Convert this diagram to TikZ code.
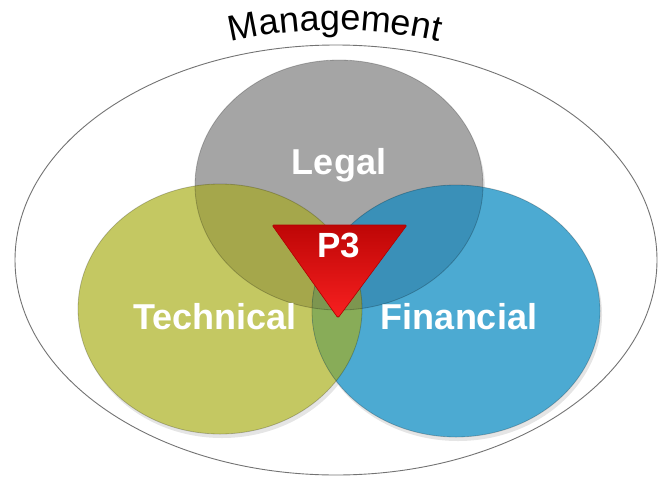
\documentclass[tikz,border=0pt]{standalone}
\usepackage{fontspec}
\setmainfont{Liberation Sans}
\usepackage{tikz}
\usetikzlibrary{calc}
\usetikzlibrary{decorations.text}
\usetikzlibrary{positioning}

\definecolor{legalgray}{RGB}{165,165,165}
\definecolor{techgreen}{RGB}{196,200,98}
\definecolor{finblue}{RGB}{76,170,210}
\definecolor{legtech}{RGB}{165,167,75}
\definecolor{legfin}{RGB}{58,144,184}
\definecolor{techfin}{RGB}{136,172,88}
\definecolor{allthree}{RGB}{125,150,80}
\definecolor{ptop}{RGB}{190,6,6}
\definecolor{pbot}{RGB}{248,32,32}

\newcommand{\legalset}{(339,185) ellipse [x radius=144, y radius=125]}
\newcommand{\techset}{(220,309) ellipse [x radius=142, y radius=125]}
\newcommand{\finset}{(456,311) ellipse [x radius=144, y radius=126]}
\newcommand{\mgmtfont}{\fontsize{36}{40}\selectfont}

\begin{document}
\begin{tikzpicture}[x=1pt, y=-1pt,
                    rim/.style={draw=black, draw opacity=0.22, line width=0.8pt},
                    shade off/.style={fill=black, fill opacity=0.10},
                    setname/.style={text=white, inner sep=0pt, anchor=base,
                                    font=\fontsize{36}{40}\selectfont\bfseries}]
              \useasboundingbox (0,0) rectangle (660,479);

              % outer set
              \draw[gray!90!black, line width=0.9pt] (336,260) ellipse [x radius=321, y radius=215];
              \begin{scope}[y=1pt]
                \path[decorate, decoration={text along path, text align=center,
                      text={|\mgmtfont|Management}}]
                      (335,-495) ++(105:465) arc[start angle=105, end angle=75, radius=465];
              \end{scope}

              % shadows
              \begin{scope}[shift={(2,4)}]
                \fill[shade off] \legalset;
                \fill[shade off] \techset;
                \fill[shade off] \finset;
              \end{scope}

              % the three sets
              \fill[legalgray] \legalset;
              \fill[techgreen] \techset;
              \fill[finblue]   \finset;
              \begin{scope}
                \clip \legalset;
                \fill[legtech] \techset;
                \fill[legfin]  \finset;
              \end{scope}
              \begin{scope}
                \clip \techset;
                \fill[techfin] \finset;
                \clip \finset;
                \fill[allthree] \legalset;
              \end{scope}
              \draw[rim] \legalset;
              \draw[rim] \techset;
              \draw[rim] \finset;

              \draw (339,174) node[setname] (legal) {Legal};
              \draw (215,329) node[setname] (technical) {Technical};
              \draw (459,329) node[setname] (financial) {Financial};

              % P3 triangle
              \coordinate (tl) at (272,225);
              \coordinate (tr) at (407,225);
              \coordinate (tb) at (338,318);
              \fill[black, fill opacity=0.25, shift={(2,3)}] (tl) -- (tr) -- (tb) -- cycle;
              \shade[top color=ptop, bottom color=pbot, draw=red!70!black, line width=0.6pt,
                     rounded corners=1.5pt] (tl) -- (tr) -- (tb) -- cycle;
              \draw (339,257) node[setname, font=\fontsize{35}{40}\selectfont\bfseries] (pthree) {P3};

              \end{tikzpicture}
\end{document}
